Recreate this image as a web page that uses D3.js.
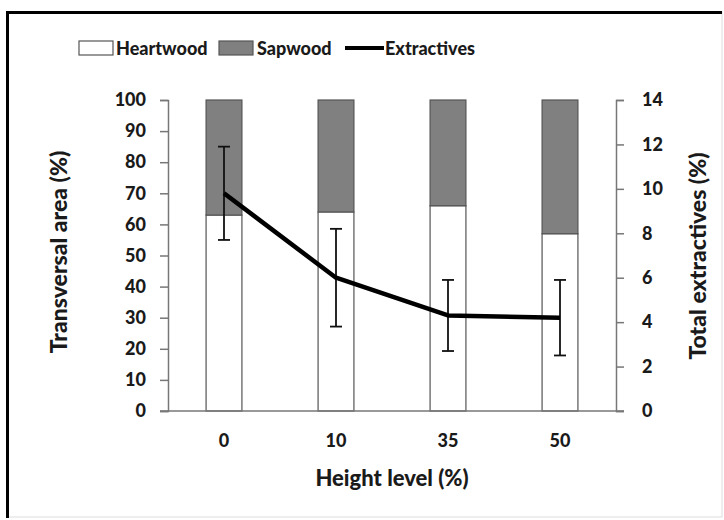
<!DOCTYPE html>
<html>
<head>
<meta charset="utf-8">
<script src="https://cdn.jsdelivr.net/npm/d3@7"></script>
<style>
body { margin: 0; background: #fff; }
text { font-family: Lato, "Open Sans", sans-serif; font-weight: 900; fill: #1a1a1a; }
</style>
</head>
<body>
<div id="chart"></div>
<script>
// data
var levels = ["0", "10", "35", "50"];
var heartwood = [63, 64, 66, 57];
var sapwood = [37, 36, 34, 43];
var extractives = [9.8, 6.0, 4.3, 4.2];
var extractivesErr = [2.1, 2.2, 1.6, 1.7];
var leftTicks = [0, 10, 20, 30, 40, 50, 60, 70, 80, 90, 100];
var rightTicks = [0, 2, 4, 6, 8, 10, 12, 14];

var svg = d3.select("#chart").append("svg").attr("width", 724).attr("height", 520);

// frame
svg.append("rect").attr("x", 8).attr("y", 12).attr("width", 714).attr("height", 505)
    .attr("fill", "none").attr("stroke", "#ddd").attr("stroke-width", 1);
svg.append("line").attr("x1", 6).attr("y1", 12.5).attr("x2", 722).attr("y2", 12.5)
    .attr("stroke", "#000").attr("stroke-width", 3);
svg.append("line").attr("x1", 7.5).attr("y1", 11).attr("x2", 7.5).attr("y2", 518)
    .attr("stroke", "#000").attr("stroke-width", 3);

var plotLeft = 168, plotRight = 616, plotTop = 100, plotBottom = 411;

var x = d3.scaleBand().domain(levels).range([plotLeft, plotRight])
    .paddingInner(0.68).paddingOuter(0.34);
var y = d3.scaleLinear().domain([0, 100]).range([plotBottom, plotTop]);
var y2 = d3.scaleLinear().domain([0, 14]).range([plotBottom, plotTop]);

// bars
var g = svg.append("g");
levels.forEach(function(l, i) {
    g.append("rect")
        .attr("x", x(l)).attr("y", y(heartwood[i]))
        .attr("width", x.bandwidth()).attr("height", y(0) - y(heartwood[i]))
        .attr("fill", "#fff").attr("stroke", "#555").attr("stroke-width", 1.2);
    g.append("rect")
        .attr("x", x(l)).attr("y", y(heartwood[i] + sapwood[i]))
        .attr("width", x.bandwidth()).attr("height", y(heartwood[i]) - y(heartwood[i] + sapwood[i]))
        .attr("fill", "#808080").attr("stroke", "#555").attr("stroke-width", 1.2);
});

// axes
var yAxis = svg.append("g").attr("transform", "translate(" + plotLeft + ",0)")
    .call(d3.axisLeft(y).tickValues(leftTicks).tickSize(8).tickPadding(14));
var y2Axis = svg.append("g").attr("transform", "translate(" + plotRight + ",0)")
    .call(d3.axisRight(y2).tickValues(rightTicks).tickSize(8).tickPadding(18));
var xAxis = svg.append("g").attr("transform", "translate(0," + plotBottom + ")")
    .call(d3.axisBottom(x).tickSize(0).tickPadding(23));
xAxis.select(".domain").attr("d", "M" + (plotLeft - 8) + ",0H" + (plotRight + 8));

[yAxis, y2Axis, xAxis].forEach(function(a) {
    a.selectAll(".domain").attr("stroke", "#777").attr("stroke-width", 1.5);
    a.selectAll(".tick line").attr("stroke", "#777").attr("stroke-width", 1.5);
    a.selectAll("text").style("font-size", "18px").attr("fill", "#1a1a1a")
        .style("font-family", "Lato, sans-serif").style("font-weight", 900);
});

// extractives line + error bars
var cx = function(i) { return x(levels[i]) + x.bandwidth() / 2; };
var line = d3.line().x(function(d, i) { return cx(i); }).y(function(d) { return y2(d); });

extractives.forEach(function(v, i) {
    var lo = y2(v - extractivesErr[i]), hi = y2(v + extractivesErr[i]);
    svg.append("line").attr("x1", cx(i)).attr("x2", cx(i)).attr("y1", lo).attr("y2", hi)
        .attr("stroke", "#111").attr("stroke-width", 1.8);
    [lo, hi].forEach(function(yy) {
        svg.append("line").attr("x1", cx(i) - 6).attr("x2", cx(i) + 6).attr("y1", yy).attr("y2", yy)
            .attr("stroke", "#111").attr("stroke-width", 1.8);
    });
});
svg.append("path").datum(extractives).attr("d", line)
    .attr("fill", "none").attr("stroke", "#000").attr("stroke-width", 4.5).attr("stroke-linejoin", "round");

// titles
svg.append("text").attr("x", 392).attr("y", 486).attr("text-anchor", "middle")
    .style("font-size", "22px").text("Height level (%)");
svg.append("text").attr("transform", "translate(67,252) rotate(-90)").attr("text-anchor", "middle")
    .style("font-size", "23px").text("Transversal area (%)");
svg.append("text").attr("transform", "translate(706,256) rotate(-90)").attr("text-anchor", "middle")
    .style("font-size", "23px").text("Total extractives (%)");

// legend
var leg = svg.append("g");
leg.append("rect").attr("x", 79).attr("y", 41).attr("width", 34).attr("height", 14)
    .attr("fill", "#fff").attr("stroke", "#555").attr("stroke-width", 1.2);
leg.append("text").attr("x", 116).attr("y", 55).style("font-size", "18px").text("Heartwood");
leg.append("rect").attr("x", 219).attr("y", 41).attr("width", 34).attr("height", 14)
    .attr("fill", "#808080").attr("stroke", "#555").attr("stroke-width", 1.2);
leg.append("text").attr("x", 257).attr("y", 55).style("font-size", "18px").text("Sapwood");
leg.append("line").attr("x1", 345).attr("x2", 384).attr("y1", 48).attr("y2", 48)
    .attr("stroke", "#000").attr("stroke-width", 4);
leg.append("text").attr("x", 385).attr("y", 55).style("font-size", "18px").text("Extractives");
</script>
</body>
</html>
